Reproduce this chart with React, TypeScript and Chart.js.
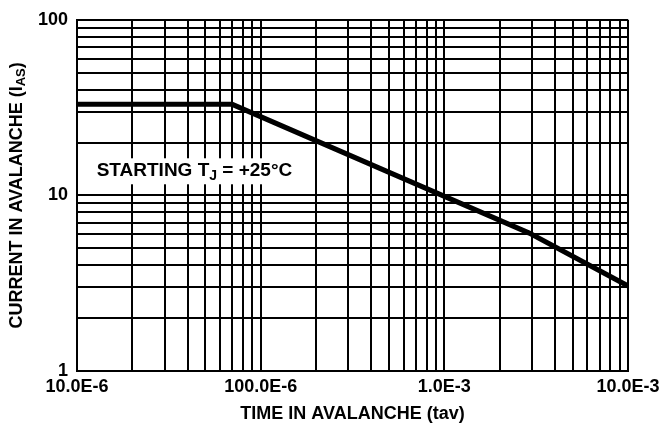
import React, { useEffect, useRef } from 'react';
import { Chart, registerables } from 'chart.js';

Chart.register(...registerables);

// Data
const timeSeconds = [10e-6, 70e-6, 2.9e-3, 10e-3];
const currentAmps = [33, 33, 6.1, 3.05];

// Axes
const xDecades = [1e-5, 1e-4, 1e-3, 1e-2];
const xDecadeLabels = ['10.0E-6', '100.0E-6', '1.0E-3', '10.0E-3'];
const yDecades = [1, 10, 100];
const yDecadeLabels = ['1', '10', '100'];
const gridMultipliers = [1, 2, 3, 4, 5, 6, 7, 8, 9];

const xTitle = 'TIME IN AVALANCHE (tav)';
const yTitleMain = 'CURRENT IN AVALANCHE (I';
const yTitleSub = 'AS';
const yTitleEnd = ')';

const noteX = 1.28e-5;
const noteY = 13.9;
const noteMain = 'STARTING T';
const noteSub = 'J';
const noteEnd = ' = +25°C';

const FAMILY = '"Liberation Sans", Arial, Helvetica, sans-serif';
const BIG = `bold 18px ${FAMILY}`;
const SMALL = `bold 13px ${FAMILY}`;
const NOTE_BIG = `bold 19px ${FAMILY}`;
const NOTE_SMALL = `bold 14px ${FAMILY}`;

function gridValues(decades: number[]) {
  const out: number[] = [];
  decades.forEach((d, i) => {
    if (i === decades.length - 1) out.push(d);
    else gridMultipliers.forEach((m) => out.push(d * m));
  });
  return out;
}

function labelFor(v: number, decades: number[], labels: string[]) {
  const i = decades.findIndex((d) => Math.abs(v / d - 1) < 1e-6);
  return i >= 0 ? labels[i] : '';
}

type Part = [string, string, number];

function drawParts(ctx: CanvasRenderingContext2D, parts: Part[], x: number, y: number, center: boolean) {
  let total = 0;
  parts.forEach(([t, f]) => {
    ctx.font = f;
    total += ctx.measureText(t).width;
  });
  let cx = center ? x - total / 2 : x;
  parts.forEach(([t, f, dy]) => {
    ctx.font = f;
    ctx.fillText(t, cx, y + dy);
    cx += ctx.measureText(t).width;
  });
  return total;
}

const textPlugin = {
  id: 'textPlugin',
  afterDraw(chart: any) {
    const ctx: CanvasRenderingContext2D = chart.ctx;
    const area = chart.chartArea;
    ctx.save();
    ctx.fillStyle = '#000';
    ctx.textBaseline = 'middle';
    ctx.textAlign = 'left';
    // y title
    ctx.save();
    ctx.translate(17, (area.top + area.bottom) / 2);
    ctx.rotate(-Math.PI / 2);
    drawParts(ctx, [[yTitleMain, BIG, 0], [yTitleSub, SMALL, 4], [yTitleEnd, BIG, 0]], 0, 0, true);
    ctx.restore();
    // annotation
    const px = chart.scales.x.getPixelForValue(noteX);
    const py = chart.scales.y.getPixelForValue(noteY);
    const parts: Part[] = [[noteMain, NOTE_BIG, 0], [noteSub, NOTE_SMALL, 6], [noteEnd, NOTE_BIG, 0]];
    let w = 0;
    parts.forEach(([t, f]) => { ctx.font = f; w += ctx.measureText(t).width; });
    ctx.fillStyle = '#fff';
    ctx.fillRect(px - 6, py - 12, w + 12, 26);
    ctx.fillStyle = '#000';
    drawParts(ctx, parts, px, py, false);
    ctx.restore();
  },
};

export default function App() {
  const ref = useRef<HTMLCanvasElement | null>(null);
  useEffect(() => {
    if (!ref.current) return;
    const xGrid = gridValues(xDecades);
    const yGrid = gridValues(yDecades);
    const chart = new Chart(ref.current, {
      type: 'line',
      data: {
        datasets: [
          {
            data: timeSeconds.map((t, i) => ({ x: t, y: currentAmps[i] })),
            borderColor: '#000',
            borderWidth: 5,
            pointRadius: 0,
            tension: 0,
            fill: false,
          },
        ],
      },
      options: {
        responsive: false,
        animation: false,
        devicePixelRatio: 1,
        layout: { padding: { top: 19, right: 0, left: 0, bottom: 0 } },
        plugins: { legend: { display: false }, tooltip: { enabled: false } },
        scales: {
          x: {
            type: 'logarithmic',
            min: xDecades[0],
            max: xDecades[xDecades.length - 1],
            afterBuildTicks: (s: any) => { s.ticks = xGrid.map((v) => ({ value: v })); },
            afterFit: (s: any) => { s.height = 53; s.paddingRight = 32; s.paddingLeft = 0; },
            grid: { color: '#000', lineWidth: 2, drawTicks: false },
            border: { color: '#000', width: 2 },
            ticks: {
              autoSkip: false,
              maxRotation: 0,
              minRotation: 0,
              padding: 5,
              color: '#000',
              font: { family: FAMILY, size: 18, weight: 'bold' },
              callback: (v: any) => labelFor(Number(v), xDecades, xDecadeLabels),
            },
            title: {
              display: true,
              text: xTitle,
              color: '#000',
              font: { family: FAMILY, size: 18, weight: 'bold' },
              padding: { top: 0, bottom: -1 },
            },
          },
          y: {
            type: 'logarithmic',
            min: yDecades[0],
            max: yDecades[yDecades.length - 1],
            afterBuildTicks: (s: any) => { s.ticks = yGrid.map((v) => ({ value: v })); },
            afterFit: (s: any) => { s.width = 77; },
            grid: { color: '#000', lineWidth: 2, drawTicks: false },
            border: { color: '#000', width: 2 },
            ticks: {
              autoSkip: false,
              padding: 9,
              color: '#000',
              font: { family: FAMILY, size: 18, weight: 'bold' },
              callback: (v: any) => labelFor(Number(v), yDecades, yDecadeLabels),
            },
          },
        },
      },
      plugins: [textPlugin],
    } as any);
    return () => chart.destroy();
  }, []);
  return (
    <div style={{ position: 'absolute', left: 0, top: 0, width: 660, height: 424, background: '#fff' }}>
      <canvas ref={ref} width={660} height={424} />
    </div>
  );
}
